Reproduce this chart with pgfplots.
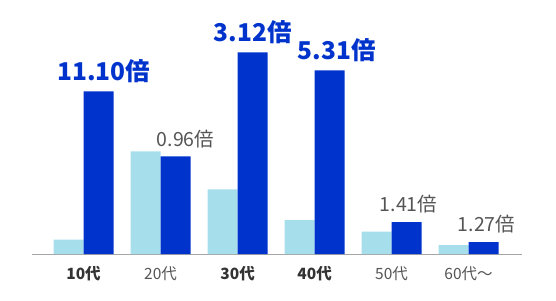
\documentclass[border=0pt]{standalone}
\usepackage{pgfplots}
\pgfplotsset{compat=1.18}
\usepackage{fontspec}
\setmainfont{Noto Sans CJK JP}
\definecolor{lb}{HTML}{A7DEEC}
\definecolor{db}{HTML}{0033CC}
\definecolor{tg}{HTML}{555555}
\definecolor{tk}{HTML}{333333}
\newcommand\hi[2]{\hspace*{#1}\fontsize{24.5}{24.5}\selectfont\bfseries\color{db}#2}
\newcommand\lo[2]{\hspace*{#1}\fontsize{19.5}{19.5}\selectfont\color{tg}#2}
\begin{document}
\begin{tikzpicture}[x=1pt,y=1pt]
\useasboundingbox (0,0) rectangle (556,300);
\begin{axis}[
  at={(41,46)}, anchor=south west,
  width=490pt, height=254pt, scale only axis,
  xmin=-0.675, xmax=5.688, ymin=0, ymax=254,
  axis x line=bottom, axis y line=none,
  x axis line style={draw=black!35, -, line width=0.8pt},
  ytick=\empty,
  xtick={0,1,2,3,4,5},
  xticklabels={{\bfseries\color{tk}10代},20代,{\bfseries\color{tk}30代},{\bfseries\color{tk}40代},50代,60代〜},
  xticklabel style={font=\fontsize{15.5}{15.5}\selectfont, text=tg, anchor=center, yshift=-20pt},
  major tick length=0pt,
  ybar, bar width=30pt,
  clip=false,
]
\addplot[fill=lb, draw=none, bar shift=-15pt] coordinates {
  (0,14.3) (1,102.7) (2,64.7) (3,34) (4,22.3) (5,9)
};
\addplot[fill=db, draw=none, bar shift=15pt,
  nodes near coords, point meta=explicit symbolic,
  nodes near coords style={anchor=south, inner sep=0pt, yshift=8.5pt}] coordinates {
  (0,162.7) [\hi{10pt}{11.10倍}]
  (1,97.7)  [\lo{20pt}{0.96倍}]
  (2,201.7) [\hi{0pt}{3.12倍}]
  (3,183.7) [\hi{14pt}{5.31倍}]
  (4,32)    [\lo{4pt}{1.41倍}]
  (5,12)    [\lo{6pt}{1.27倍}]
};
\end{axis}
\end{tikzpicture}
\end{document}
